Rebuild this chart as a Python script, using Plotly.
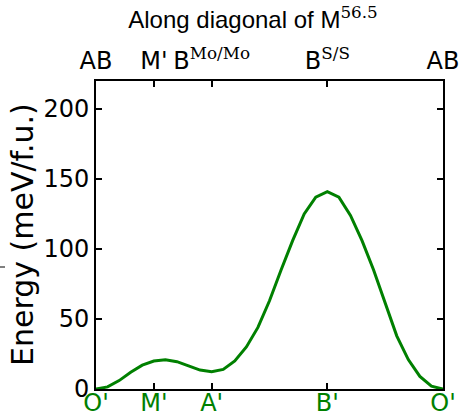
import plotly.graph_objects as go

# path index along the diagonal (31 evenly spaced points)
path_index = list(range(31))
energy = [0, 1.5, 6, 12, 17, 20, 20.8, 19.5, 16.5, 13.5, 12.3, 14, 20, 30, 44,
          63, 85, 106, 125, 137, 141, 137, 124, 106, 85, 61, 38, 21, 9, 2, 0]

tick_pos = [0, 5, 10, 20, 30]
bottom_labels = ["O'", "M'", "A'", "B'", "O'"]
SER = "font-family:'DejaVu Serif','Liberation Serif',serif"
top_labels = ["AB", "M'",
              f"B<sup><span style=\"{SER}\">Mo/Mo</span></sup>",
              f"B<sup><span style=\"{SER}\">S/S</span></sup>",
              "AB"]
y_ticks = [0, 50, 100, 150, 200]

W, H = 462, 417
L, R, T, B = 96, 443, 81, 389

fig = go.Figure()
fig.add_trace(go.Scatter(x=path_index, y=energy, mode="lines",
                         line=dict(color="#008000", width=3), showlegend=False))
fig.add_trace(go.Scatter(x=path_index, y=energy, mode="lines", xaxis="x2",
                         line=dict(color="rgba(0,0,0,0)", width=0), showlegend=False,
                         hoverinfo="skip"))

tickfont = dict(family="DejaVu Sans", size=24, color="black")
fig.update_layout(
    width=W, height=H,
    margin=dict(l=L, r=W - R, t=T, b=H - B, pad=0, autoexpand=False),
    plot_bgcolor="white", paper_bgcolor="white",
    xaxis=dict(range=[0, 30], tickvals=tick_pos, ticktext=bottom_labels,
               tickfont=dict(family="DejaVu Sans", size=24, color="#008000"),
               ticks="inside", ticklen=6, tickwidth=1.5, tickcolor="black",
               ticklabelstandoff=-9,
               showline=True, linecolor="black", linewidth=2, mirror=False,
               showgrid=False, zeroline=False, automargin=False),
    xaxis2=dict(range=[0, 30], overlaying="x", side="top", anchor="y",
                tickvals=tick_pos, ticktext=top_labels, tickfont=tickfont,
                ticks="inside", ticklen=6, tickwidth=1.5, tickcolor="black",
                showline=True, linecolor="black", linewidth=2,
                showgrid=False, zeroline=False, automargin=False),
    yaxis=dict(range=[0, 220], tickvals=y_ticks, tickfont=tickfont,
               ticks="inside", ticklen=6, tickwidth=1.5, tickcolor="black",
               showline=True, linecolor="black", linewidth=2, mirror="ticks",
               showgrid=False, zeroline=False, automargin=False),
    title=dict(text=f"Along diagonal of M<sup><span style=\"{SER}\">56.5</span></sup>",
               font=dict(family="Liberation Sans", size=24, color="black"),
               x=253 / W, xanchor="center", y=1 - 20 / H, yanchor="middle",
               automargin=False),
    annotations=[dict(text="Energy (meV/f.u.)", textangle=-90, showarrow=False,
                      xref="paper", yref="paper",
                      x=(22 - L) / (R - L), y=0.5, xanchor="center", yanchor="middle",
                      font=dict(family="DejaVu Sans", size=30, color="black"))],
    shapes=[dict(type="line", xref="paper", yref="paper",
                 x0=(0 - L) / (R - L), x1=(5 - L) / (R - L),
                 y0=(B - 267) / (B - T), y1=(B - 267) / (B - T),
                 line=dict(color="black", width=1))],
)

fig.write_html("out.html")
